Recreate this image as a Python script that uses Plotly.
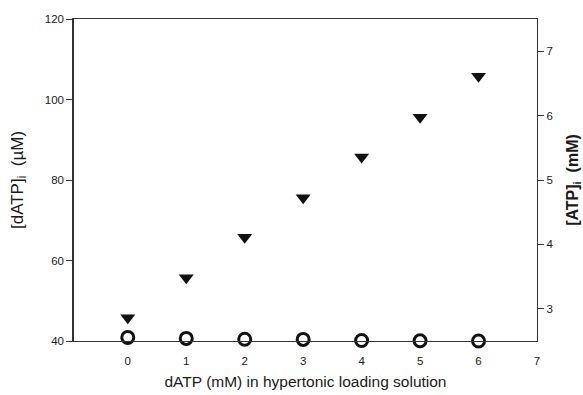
import plotly.graph_objects as go

dose = [0, 1, 2, 3, 4, 5, 6]
datp_uM = [45.8, 55.7, 65.8, 75.6, 85.7, 95.6, 105.8]
atp_mM = [2.556, 2.54, 2.527, 2.525, 2.507, 2.503, 2.50]

x_ticks = [0, 1, 2, 3, 4, 5, 6, 7]
left_ticks = [40, 60, 80, 100, 120]
right_ticks = [3, 4, 5, 6, 7]

fig = go.Figure()
fig.add_trace(go.Scatter(
    x=dose, y=datp_uM, mode="markers", yaxis="y",
    marker=dict(symbol="triangle-down", size=13, color="#111111", line=dict(width=0)),
    showlegend=False))
fig.add_trace(go.Scatter(
    x=dose, y=atp_mM, mode="markers", yaxis="y2",
    marker=dict(symbol="circle-open", size=12, color="#111111", line=dict(width=3)),
    showlegend=False, cliponaxis=False))

font = dict(family="Liberation Sans, Arial, sans-serif", color="#1a1a1a")
fig.update_layout(
    width=583, height=395,
    margin=dict(l=74, r=46, t=19, b=54),
    paper_bgcolor="white", plot_bgcolor="white",
    font=dict(size=11.5, **font),
    xaxis=dict(range=[-0.92, 7], tickvals=x_ticks, ticks="outside", ticklen=9,
               tickcolor="rgba(0,0,0,0)", showgrid=False, automargin=False,
               zeroline=False, showline=True, linecolor="#333333", linewidth=1.2,
               mirror=True, tickfont=dict(size=11.5),
               title=dict(text="dATP (mM) in hypertonic loading solution",
                          font=dict(size=15.5), standoff=10)),
    yaxis=dict(range=[40, 120], tickvals=left_ticks, ticks="outside", ticklen=6,
               tickcolor="#333333", showgrid=False, zeroline=False, automargin=False,
               showline=True, linecolor="#333333", linewidth=1.5,
               tickfont=dict(size=11.5),
               title=dict(text="[dATP]<sub>i</sub>  (µM)", font=dict(size=17), standoff=17)),
    yaxis2=dict(range=[2.5, 7.5], tickvals=right_ticks, overlaying="y", side="right",
                ticks="outside", ticklen=6, tickcolor="#333333", showgrid=False,
                zeroline=False, showline=True, linecolor="#333333", linewidth=1.2,
                tickfont=dict(size=11.5), automargin=False,
                title=dict(text="<b>[ATP]<sub>i</sub>  (mM)</b>", font=dict(size=16), standoff=19)),
)
fig.write_html("out.html")
